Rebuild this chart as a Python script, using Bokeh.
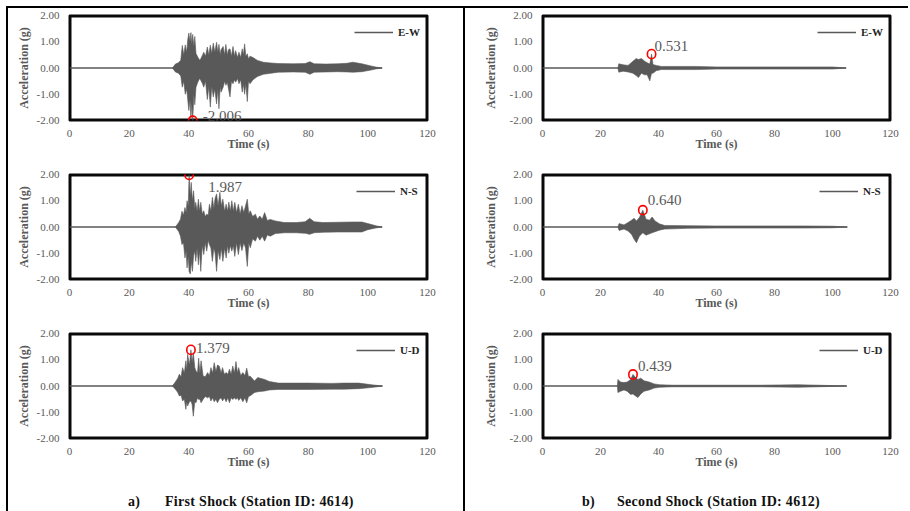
from bokeh.plotting import figure
from bokeh.models import (Range1d, FixedTicker, NumeralTickFormatter, Legend,
                          LegendItem, Label, Spacer, Div, BoxAnnotation)
from bokeh.layouts import row, column
from bokeh.embed import file_html
from bokeh.resources import INLINE

# ---------------- data ----------------
x_ticks = [0, 20, 40, 60, 80, 100, 120]
y_ticks = [-2, -1, 0, 1, 2]
record_start = 0.0

# First shock, station 4614 -- E-W component (upper / lower envelope of the record)
ew1_t = [34.5, 35.5, 36.5, 37.3, 37.8, 38.3, 38.8, 39.3, 39.6, 40.0, 40.4, 40.7, 41.0, 41.3, 41.7,
         42.0, 42.4, 43.0, 43.6, 44.0, 44.6, 45.0, 45.6, 46.2, 46.7, 47.2, 47.7, 48.2, 48.7, 49.3,
         49.7, 50.1, 50.5, 50.8, 51.5, 52.0, 52.4, 52.9, 53.3, 53.8, 54.3, 54.8, 55.3, 55.7, 56.3,
         56.8, 57.4, 57.9, 58.3, 58.7, 59.1, 59.6, 60.0, 60.5, 61.5, 63.0, 65.0, 67.5, 70.0, 75.0,
         79.0, 80.6, 82.0, 86.0, 90.0, 93.0, 95.0, 98.0, 101.0, 103.0, 104.8]
ew1_up = [0.0, 0.15, 0.2, 0.3, 0.86, 0.5, 0.88, 0.6, 1.05, 1.33, 1.0, 1.35, 0.9, 1.28, 0.8,
          1.2, 0.55, 0.42, 0.3, 0.35, 0.5, 0.6, 0.45, 0.8, 0.5, 0.87, 0.55, 0.95, 0.6, 0.98,
          0.6, 0.9, 0.5, 0.7, 0.82, 0.5, 0.9, 0.5, 0.7, 0.73, 0.45, 0.82, 0.45, 0.66, 0.4,
          0.6, 0.4, 0.73, 0.5, 0.92, 0.45, 0.54, 0.35, 0.45, 0.4, 0.29, 0.22, 0.19, 0.17, 0.16,
          0.17, 0.24, 0.16, 0.15, 0.16, 0.18, 0.22, 0.16, 0.08, 0.03, 0.0]
ew1_lo = [0.0, -0.15, -0.2, -0.3, -0.73, -0.5, -1.0, -0.8, -1.17, -1.62, -1.2, -1.9, -1.3, -2.006, -1.0,
          -1.4, -0.73, -0.54, -0.4, -0.47, -0.6, -0.73, -0.5, -1.2, -0.7, -1.49, -0.7, -1.1, -0.8, -1.37,
          -0.8, -1.55, -0.7, -0.92, -0.73, -0.5, -0.66, -0.55, -0.8, -1.1, -0.5, -0.6, -0.45, -0.54, -0.4,
          -0.6, -0.45, -0.92, -0.6, -1.0, -0.6, -1.28, -0.5, -0.6, -0.45, -0.32, -0.24, -0.2, -0.16, -0.15,
          -0.16, -0.24, -0.16, -0.15, -0.14, -0.15, -0.16, -0.14, -0.08, -0.03, 0.0]

# First shock -- N-S component
ns1_t = [35.5, 36.6, 37.2, 37.7, 38.2, 38.7, 39.1, 39.4, 39.8, 40.1, 40.5, 40.8, 41.2, 41.6, 42.0,
         42.3, 42.8, 43.2, 43.6, 44.0, 44.5, 45.0, 45.5, 46.0, 46.5, 46.9, 47.4, 47.9, 48.4, 48.8,
         49.3, 49.8, 50.4, 50.9, 51.4, 52.0, 52.5, 53.0, 53.4, 53.9, 54.4, 54.9, 55.4, 56.0, 56.6,
         57.2, 57.8, 58.4, 59.0, 59.6, 60.1, 60.6, 61.4, 62.3, 63.0, 63.8, 64.6, 65.4, 66.3, 67.3,
         69.0, 72.0, 76.0, 79.0, 80.5, 82.0, 85.0, 90.0, 95.0, 98.0, 100.0, 103.0, 104.8]
ns1_up = [0.0, 0.17, 0.3, 0.6, 0.45, 0.74, 0.55, 1.0, 0.8, 1.987, 1.2, 1.7, 1.0, 1.38, 0.7,
          0.94, 0.6, 1.06, 0.6, 0.94, 0.5, 0.62, 0.4, 0.49, 0.45, 0.87, 0.6, 1.13, 0.7, 1.1,
          1.26, 0.8, 1.32, 0.8, 1.06, 0.6, 0.87, 0.6, 0.95, 0.6, 1.0, 0.6, 0.94, 0.55, 0.87,
          0.5, 0.81, 0.55, 0.8, 1.06, 0.5, 0.62, 0.4, 0.49, 0.3, 0.42, 0.3, 0.55, 0.25, 0.29,
          0.23, 0.17, 0.17, 0.2, 0.33, 0.2, 0.17, 0.18, 0.19, 0.19, 0.13, 0.04, 0.0]
ns1_lo = [0.0, -0.17, -0.35, -0.67, -0.6, -1.18, -0.9, -1.56, -1.1, -1.7, -1.79, -1.3, -1.69, -1.1, -0.9,
          -1.31, -0.8, -1.44, -0.9, -1.69, -0.7, -1.05, -0.6, -0.92, -0.5, -0.67, -0.8, -1.31, -0.8, -1.0,
          -1.69, -0.9, -1.24, -0.8, -1.31, -0.8, -1.18, -0.7, -1.0, -0.7, -0.92, -0.7, -1.12, -0.6, -1.05,
          -0.6, -0.9, -0.6, -0.8, -1.5, -0.6, -0.79, -0.45, -0.54, -0.35, -0.5, -0.35, -0.54, -0.3, -0.35,
          -0.25, -0.22, -0.22, -0.24, -0.28, -0.22, -0.2, -0.19, -0.19, -0.19, -0.1, -0.03, 0.0]

# First shock -- U-D component
ud1_t = [34.5, 35.7, 36.3, 36.8, 37.4, 37.9, 38.5, 39.0, 39.3, 39.6, 40.2, 40.7, 41.1, 41.5, 42.0,
         42.4, 42.9, 43.3, 43.7, 44.1, 44.8, 45.5, 46.3, 46.9, 47.4, 48.0, 48.5, 49.1, 49.6, 50.2,
         50.8, 51.3, 51.9, 52.5, 53.1, 53.6, 54.2, 54.7, 55.3, 55.8, 56.3, 56.7, 57.4, 58.1, 58.8,
         59.4, 60.0, 60.5, 62.0, 63.1, 65.4, 67.0, 70.0, 80.0, 88.0, 92.0, 97.0, 101.8, 104.9]
ud1_up = [0.0, 0.19, 0.3, 0.45, 0.35, 0.7, 0.5, 0.96, 0.6, 1.21, 0.8, 1.379, 0.9, 1.27, 0.7,
          0.57, 0.5, 1.06, 0.5, 0.96, 0.38, 0.35, 0.51, 0.4, 0.7, 0.5, 0.89, 0.55, 0.8, 0.76,
          0.5, 0.7, 0.45, 0.51, 0.45, 0.64, 0.45, 0.76, 0.5, 0.93, 0.5, 0.7, 0.4, 0.51, 0.4,
          0.68, 0.35, 0.38, 0.19, 0.32, 0.25, 0.17, 0.11, 0.11, 0.1, 0.11, 0.11, 0.04, 0.0]
ud1_lo = [0.0, -0.15, -0.25, -0.38, -0.35, -0.57, -0.5, -0.89, -0.6, -0.76, -0.6, -0.57, -0.7, -1.15, -0.6,
          -0.64, -0.45, -0.51, -0.5, -0.64, -0.5, -0.4, -0.45, -0.4, -0.57, -0.45, -0.6, -0.5, -0.64, -0.5,
          -0.45, -0.57, -0.45, -0.6, -0.45, -0.64, -0.45, -0.51, -0.45, -0.51, -0.45, -0.55, -0.45, -0.6, -0.45,
          -0.64, -0.4, -0.38, -0.25, -0.22, -0.19, -0.15, -0.13, -0.13, -0.12, -0.12, -0.1, -0.05, 0.0]

# Second shock, station 4612 -- E-W component
ew2_t = [26.0, 26.3, 27.8, 29.5, 31.2, 32.3, 33.1, 34.1, 35.2, 36.1, 37.0, 37.6, 38.1, 39.2, 41.0,
         45.0, 53.0, 60.0, 70.0, 80.0, 90.0, 100.0, 104.7]
ew2_up = [0.0, 0.16, 0.12, 0.1, 0.26, 0.36, 0.32, 0.36, 0.26, 0.2, 0.15, 0.531, 0.13, 0.1, 0.06,
          0.06, 0.06, 0.04, 0.04, 0.04, 0.04, 0.04, 0.0]
ew2_lo = [0.0, -0.16, -0.12, -0.15, -0.2, -0.29, -0.36, -0.2, -0.26, -0.26, -0.49, -0.2, -0.2, -0.1, -0.06,
          -0.06, -0.06, -0.04, -0.04, -0.04, -0.04, -0.04, 0.0]

# Second shock -- N-S component
ns2_t = [26.0, 26.4, 28.1, 29.5, 30.7, 31.6, 32.4, 33.4, 34.6, 35.7, 36.9, 37.8, 38.8, 40.3, 42.1,
         50.0, 60.0, 70.0, 80.0, 90.0, 100.0, 105.1]
ns2_up = [0.0, 0.13, 0.08, 0.17, 0.26, 0.33, 0.23, 0.36, 0.64, 0.3, 0.26, 0.38, 0.23, 0.12, 0.06,
          0.05, 0.04, 0.04, 0.04, 0.04, 0.03, 0.0]
ns2_lo = [0.0, -0.13, -0.08, -0.15, -0.28, -0.47, -0.6, -0.35, -0.22, -0.31, -0.26, -0.22, -0.18, -0.12, -0.08,
          -0.05, -0.04, -0.04, -0.04, -0.04, -0.03, 0.0]

# Second shock -- U-D component
ud2_t = [25.8, 26.0, 26.9, 28.1, 29.2, 30.4, 31.2, 32.1, 32.9, 33.9, 35.0, 36.8, 38.5, 40.3, 45.0,
         60.0, 75.0, 88.0, 95.0, 104.9]
ud2_up = [0.0, 0.25, 0.15, 0.13, 0.15, 0.25, 0.439, 0.32, 0.25, 0.3, 0.2, 0.15, 0.08, 0.05, 0.03,
          0.03, 0.03, 0.05, 0.03, 0.0]
ud2_lo = [0.0, -0.25, -0.2, -0.15, -0.2, -0.32, -0.3, -0.38, -0.44, -0.3, -0.2, -0.15, -0.08, -0.05, -0.03,
          -0.03, -0.03, -0.05, -0.03, 0.0]

components = ["E-W", "N-S", "U-D"]
peak_time_1 = [41.3, 40.1, 40.7]
peak_value_1 = [-2.006, 1.987, 1.379]
peak_time_2 = [37.6, 34.6, 31.2]
peak_value_2 = [0.531, 0.640, 0.439]
titles = ["First Shock (Station ID: 4614)", "Second Shock (Station ID: 4612)"]
title_tags = ["a)", "b)"]

# ---------------- styling ----------------
FONT = "Liberation Serif"
GREY = "#595959"
BOX = "#0a0a0a"


def make_panel(t, up, lo, comp, pk_t, pk_v, lab_dx, lab_dy, width, left, right, ylab_standoff):
    x_lo, x_hi = x_ticks[0], x_ticks[-1]
    y_lo, y_hi = y_ticks[0], y_ticks[-1]
    p = figure(width=width, height=159,
               min_border_left=left, min_border_right=right,
               min_border_top=7, min_border_bottom=47,
               x_range=Range1d(x_lo, x_hi), y_range=Range1d(y_lo, y_hi),
               output_backend="svg", toolbar_location=None,
               background_fill_color="white", border_fill_color="white",
               outline_line_color=BOX, outline_line_width=2)
    p.grid.visible = False
    for ax in (p.xaxis[0], p.yaxis[0]):
        ax.axis_line_color = None
        ax.major_tick_line_color = None
        ax.minor_tick_line_color = None
        ax.major_tick_out = 0
        ax.major_tick_in = 0
        ax.major_label_text_font = FONT
        ax.major_label_text_font_size = "11px"
        ax.major_label_text_color = GREY
        ax.axis_label_text_font = FONT
        ax.axis_label_text_font_size = "12px"
        ax.axis_label_text_font_style = "bold"
        ax.axis_label_text_color = GREY
    p.xaxis.ticker = FixedTicker(ticks=x_ticks)
    p.yaxis.ticker = FixedTicker(ticks=y_ticks)
    p.yaxis.formatter = NumeralTickFormatter(format="0.00")
    p.xaxis.major_label_standoff = 9
    p.xaxis.axis_label = "Time (s)"
    p.xaxis.axis_label_standoff = -3
    p.yaxis.major_label_standoff = 10
    p.yaxis.axis_label = "Acceleration (g)"
    p.yaxis.axis_label_standoff = ylab_standoff

    # dark plot-area box (drawn first, before the record)
    p.quad(left=[x_lo], right=[x_hi], bottom=[y_lo], top=[y_hi],
           fill_color=None, line_color=BOX, line_width=4)
    p.add_layout(BoxAnnotation(left=x_lo, right=x_hi, bottom=y_lo, top=y_hi,
                               fill_color=None, fill_alpha=0, line_color=BOX, line_width=2))

    base = p.line([record_start, t[-1]], [0, 0], line_color=GREY, line_width=1.6)
    # record drawn as a closed polygon: upper envelope forward, lower envelope back
    p.patch(x=list(t) + list(t)[::-1], y=list(up) + list(lo)[::-1],
            fill_color=GREY, line_color=GREY, line_width=0.6)

    legend = Legend(items=[LegendItem(label=comp, renderers=[base])], location="top_right",
                    margin=7, padding=5, spacing=0, glyph_width=39, glyph_height=20,
                    label_height=20, label_standoff=5, label_text_font=FONT,
                    label_text_font_style="bold", label_text_font_size="11px",
                    label_text_color="#262626",
                    background_fill_alpha=0, border_line_color=None)
    p.add_layout(legend)

    # red ring marking the peak
    p.add_layout(Label(x=pk_t, y=pk_v, text=" ", text_font_size="1px",
                       text_align="center", text_baseline="middle",
                       padding=4, border_radius=5, border_line_color="red",
                       border_line_width=1.6, background_fill_color=None))
    txt = f"{pk_v:.3f}"
    p.add_layout(Label(x=pk_t, y=pk_v, text=txt, x_offset=lab_dx, y_offset=lab_dy,
                       text_align="left", text_baseline="middle",
                       text_font=FONT, text_font_size="15px", text_color=GREY))
    return p


left_data = [(ew1_t, ew1_up, ew1_lo), (ns1_t, ns1_up, ns1_lo), (ud1_t, ud1_up, ud1_lo)]
right_data = [(ew2_t, ew2_up, ew2_lo), (ns2_t, ns2_up, ns2_lo), (ud2_t, ud2_up, ud2_lo)]
left_offsets = [(10, 5), (19, -12), (5, 2)]
right_offsets = [(3, 8), (5, 10), (5, 8)]

left_figs = [make_panel(*left_data[i], components[i], peak_time_1[i], peak_value_1[i],
                        *left_offsets[i], 445, 61, 26, 3) for i in range(3)]
right_figs = [make_panel(*right_data[i], components[i], peak_time_2[i], peak_value_2[i],
                         *right_offsets[i], 452, 77, 27, 9) for i in range(3)]


def title_div(tag, text, width, pad, tagw):
    html = (f'<div style="font-family:\'{FONT}\';font-weight:bold;font-size:14px;color:#111;'
            f'white-space:nowrap;padding-left:{pad}px;padding-top:2px;letter-spacing:0.3px">'
            f'<span style="display:inline-block;width:{tagw}px">{tag}</span>{text}</div>')
    return Div(text=html, width=width, height=26)


left_col = column(*left_figs, title_div(title_tags[0], titles[0], 445, 115, 37), spacing=0)
right_col = column(*right_figs, title_div(title_tags[1], titles[1], 452, 112, 35), spacing=0)


def bar(w, h, color):
    return Spacer(width=w, height=h, styles={"background-color": color})


layout = column(
    Spacer(width=910, height=6),
    row(Spacer(width=6, height=2), bar(902, 2, "black"), spacing=0),
    row(Spacer(width=6, height=503), bar(2, 503, "black"), left_col, bar(2, 503, "black"),
        right_col, bar(1, 503, "#9a9a9a"), spacing=0),
    spacing=0,
)

open("out.html", "w").write(file_html(layout, INLINE))
